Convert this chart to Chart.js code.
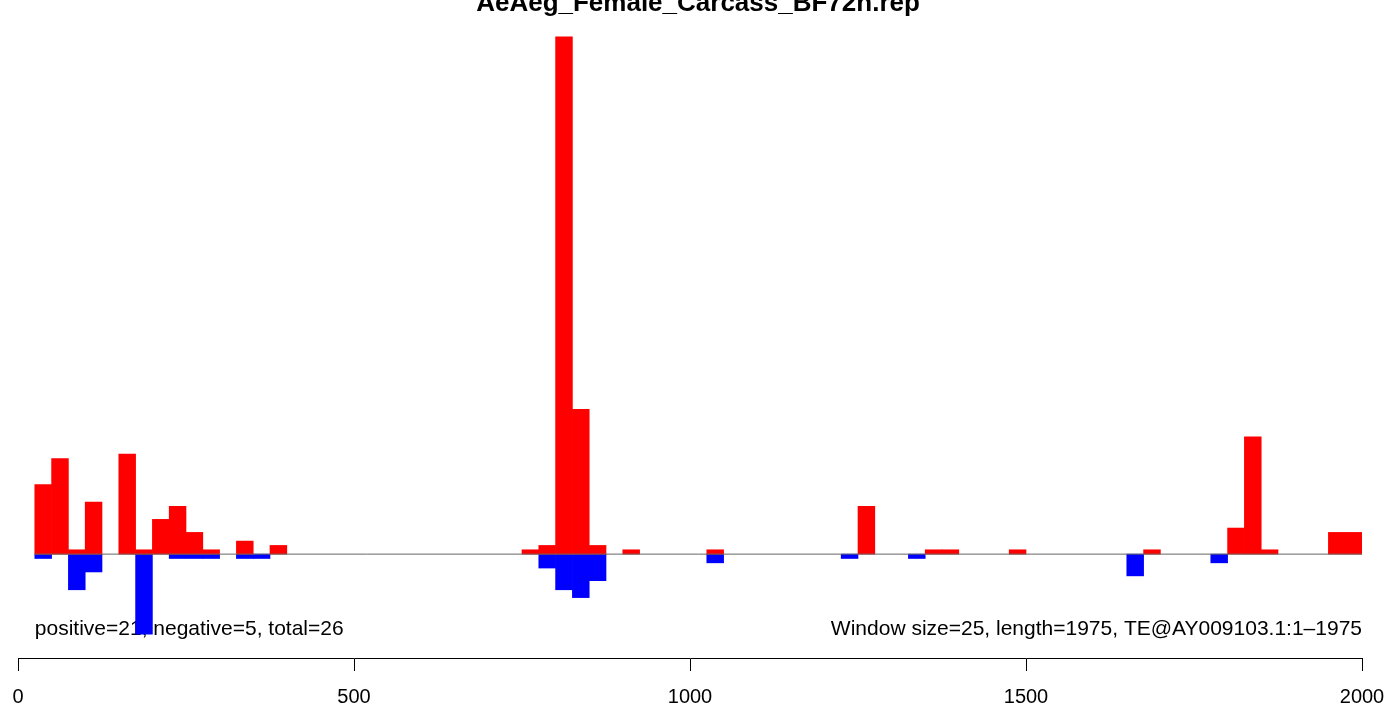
<!DOCTYPE html>
<html>
<head>
<meta charset="utf-8">
<script src="https://cdn.jsdelivr.net/npm/chart.js@4/dist/chart.umd.min.js"></script>
<style>
  html, body { margin: 0; padding: 0; background: #fff; }
  canvas { display: block; }
</style>
</head>
<body>
<canvas id="repChart" width="1387" height="709"></canvas>
<script>
// window coverage plot, window size 25

const chartTitle = 'AeAeg_Female_Carcass_BF72h.rep';
const leftNote = 'positive=21, negative=5, total=26';
const rightNote = 'Window size=25, length=1975, TE@AY009103.1:1\u20131975';

const xTicks = [0, 500, 1000, 1500, 2000];
const windowSize = 25;

// positive strand windows (start position) and values
const posStart = [25, 50, 75, 100, 150, 175, 200, 225, 250, 275, 325, 375,
  750, 775, 800, 825, 850, 900, 1025, 1250, 1350, 1375, 1475,
  1675, 1800, 1825, 1850, 1950, 1975];
const posVal = [16, 22, 1, 12, 23, 1, 8, 11, 5, 1, 3, 2,
  1, 2, 119, 33.3, 2, 1, 1, 11, 1, 1, 1,
  1, 6, 27, 1, 5, 5];

// negative strand windows
const negStart = [25, 75, 100, 175, 225, 250, 275, 325, 350,
  775, 800, 825, 850, 1025, 1225, 1325, 1650, 1775];
const negVal = [-1, -8.2, -4.1, -18.4, -1, -1, -1, -1, -1,
  -3.2, -8.2, -10, -6.1, -2, -1, -1, -5, -2];

const FONT = "'Liberation Sans', Arial, Helvetica, sans-serif";

const toPoints = (starts, vals) => starts.map((s, i) => ({ x: s + windowSize / 2, y: vals[i] }));

// R style 4% padding of the y range
const yHi = Math.max(...posVal);
const yLo = Math.min(...negVal);
const yPad = (yHi - yLo) * 0.04;

const notesPlugin = {
  id: 'notes',
  beforeDatasetsDraw(chart) {
    const { ctx } = chart;
    const xs = chart.scales.x;
    ctx.save();
    ctx.fillStyle = '#000';
    ctx.textBaseline = 'alphabetic';
    ctx.font = 'bold 26px ' + FONT;
    ctx.textAlign = 'center';
    ctx.fillText(chartTitle, 698, 11);
    ctx.font = '21px ' + FONT;
    ctx.textAlign = 'left';
    ctx.fillText(leftNote, xs.getPixelForValue(25), 635);
    ctx.textAlign = 'right';
    ctx.fillText(rightNote, xs.getPixelForValue(2000), 635);
    ctx.restore();
  }
};

new Chart(document.getElementById('repChart').getContext('2d'), {
  type: 'bar',
  data: {
    datasets: [
      {
        type: 'line',
        label: 'zero',
        data: [{ x: 25, y: 0 }, { x: 2000, y: 0 }],
        borderColor: '#666666',
        borderWidth: 1,
        pointRadius: 0,
        order: 0,
      },
      {
        label: 'positive',
        data: toPoints(posStart, posVal),
        backgroundColor: '#ff0000',
        borderWidth: 0,
        barPercentage: 1,
        categoryPercentage: 1,
        order: 1,
      },
      {
        label: 'negative',
        data: toPoints(negStart, negVal),
        backgroundColor: '#0000ff',
        borderWidth: 0,
        barPercentage: 1,
        categoryPercentage: 1,
        order: 1,
      },
    ],
  },
  options: {
    responsive: false,
    animation: false,
    layout: { padding: { left: 18, right: 25, top: 13, bottom: -14 } },
    plugins: {
      legend: { display: false },
      tooltip: { enabled: false },
    },
    scales: {
      x: {
        type: 'linear',
        stacked: true,
        offset: false,
        min: 0,
        max: 2000,
        afterBuildTicks: axis => { axis.ticks = xTicks.map(v => ({ value: v })); },
        afterFit: axis => { axis.paddingLeft = 0; axis.paddingRight = 0; },
        grid: { offset: false, drawOnChartArea: false, drawTicks: true, tickLength: 13, color: '#000', lineWidth: 1 },
        border: { display: true, color: '#000', width: 1 },
        ticks: {
          color: '#000',
          padding: 14,
          maxRotation: 0,
          autoSkip: false,
          font: { family: FONT, size: 20 },
          callback: v => String(v),
        },
      },
      y: {
        display: false,
        stacked: true,
        min: yLo - yPad,
        max: yHi + yPad,
      },
    },
  },
  plugins: [notesPlugin],
});
</script>
</body>
</html>
